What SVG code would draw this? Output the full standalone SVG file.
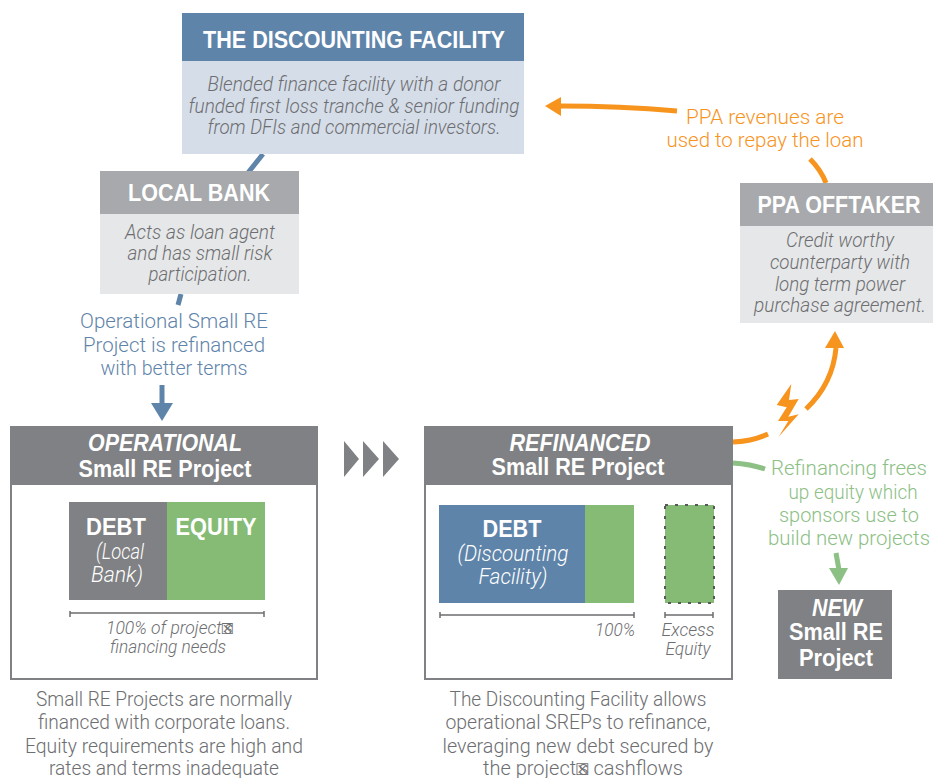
<svg xmlns="http://www.w3.org/2000/svg" width="933" height="778" viewBox="0 0 933 778">
<style>
text{font-family:Roboto,"Liberation Sans",Arial,sans-serif;text-anchor:middle;font-weight:300}
.h{font-family:"Liberation Sans",Arial,sans-serif;font-weight:700;fill:#fff;font-size:24px}
.i{font-style:italic;fill:#6d6e71;font-size:20px}
.s{font-style:italic;fill:#6d6e71;font-size:17.5px}
.b{fill:#5f84aa;font-size:21px}
.o{fill:#f7941e;font-size:21px}
.g{fill:#8cc084;font-size:21px}
.c{fill:#6d6e71;font-size:20px}
.w{font-family:"Liberation Sans",Arial,sans-serif;font-weight:700;fill:#fff;font-size:23px}
.wb{font-family:"Liberation Sans",Arial,sans-serif;font-weight:700;font-style:italic;fill:#fff;font-size:23px}
.wi{font-style:italic;fill:#fff;font-size:22px}
.x{font-family:"DejaVu Sans",sans-serif;font-style:normal;font-weight:400}
.conn{fill:none;stroke-width:5}
.tick{stroke:#6d6e71;stroke-width:1.5;fill:none}
</style>
<g id="connectors">
<path class="conn" stroke="#5f84aa" d="M263 154L247 174"/>
<path class="conn" stroke="#5f84aa" d="M181 294L178 305"/>
<path class="conn" stroke="#5f84aa" d="M162 385V404"/>
<path d="M151 403H173L162 421Z" fill="#5f84aa"/>
<path class="conn" stroke="#f7941e" d="M677 111Q620 106 560 106"/>
<path d="M561 97L545 106L561 116Z" fill="#f7941e"/>
<path class="conn" stroke="#f7941e" d="M810 159Q821 170 826 183"/>
<path class="conn" stroke="#f7941e" d="M733 442Q753 441 768 434"/>
<path class="conn" stroke="#f7941e" d="M806 409C824 392 834 370 836 348"/>
<path d="M825 348L835 331L844 348Z" fill="#f7941e"/>
<path d="M791.3 384L776.7 405L786.7 407.3L778 421L788.3 421L778.7 436.7L798.7 414.3L788.3 416.7L798.7 399L789 400Z" fill="#f7941e"/>
<path class="conn" stroke="#8cc084" d="M733 463Q750 464 765 469"/>
<path class="conn" stroke="#8cc084" d="M836 553L839 570"/>
<path d="M829 568H848L839 585Z" fill="#8cc084"/>
<path d="M344 441L359 459L344 477ZM363 441L379 459L363 477ZM383 441L399 459L383 477Z" fill="#808184"/>
</g>
<g id="discounting-facility">
<rect x="182" y="13" width="342" height="48" fill="#5f84aa"/>
<rect x="182" y="61" width="342" height="93" fill="#d5dde8"/>
<text class="h" x="354" y="48" textLength="302" lengthAdjust="spacingAndGlyphs">THE DISCOUNTING FACILITY</text>
<text class="i" x="354" y="91" textLength="293" lengthAdjust="spacingAndGlyphs">Blended finance facility with a donor</text>
<text class="i" x="354" y="113" textLength="331" lengthAdjust="spacingAndGlyphs">funded first loss tranche &amp; senior funding</text>
<text class="i" x="354" y="134" textLength="293" lengthAdjust="spacingAndGlyphs">from DFIs and commercial investors.</text>
</g>
<g id="local-bank">
<rect x="100" y="171" width="199" height="43" fill="#a7a9ac"/>
<rect x="100" y="214" width="199" height="80" fill="#e6e7e8"/>
<text class="h" x="199" y="201" textLength="142" lengthAdjust="spacingAndGlyphs">LOCAL BANK</text>
<text class="i" x="200" y="239" textLength="150" lengthAdjust="spacingAndGlyphs">Acts as loan agent</text>
<text class="i" x="200" y="260" textLength="145" lengthAdjust="spacingAndGlyphs">and has small risk</text>
<text class="i" x="200" y="281" textLength="103" lengthAdjust="spacingAndGlyphs">participation.</text>
</g>
<g id="ppa-offtaker">
<rect x="740" y="183" width="193" height="43" fill="#a7a9ac"/>
<rect x="740" y="226" width="193" height="97" fill="#e6e7e8"/>
<text class="h" x="839" y="213" textLength="163" lengthAdjust="spacingAndGlyphs">PPA OFFTAKER</text>
<text class="i" x="840" y="247" textLength="108" lengthAdjust="spacingAndGlyphs">Credit worthy</text>
<text class="i" x="840" y="269" textLength="140" lengthAdjust="spacingAndGlyphs">counterparty with</text>
<text class="i" x="840" y="291" textLength="130" lengthAdjust="spacingAndGlyphs">long term power</text>
<text class="i" x="840" y="312" textLength="172" lengthAdjust="spacingAndGlyphs">purchase agreement.</text>
</g>
<g id="label-refinance">
<text class="b" x="174" y="328" textLength="188" lengthAdjust="spacingAndGlyphs">Operational Small RE</text>
<text class="b" x="174" y="352" textLength="182" lengthAdjust="spacingAndGlyphs">Project is refinanced</text>
<text class="b" x="174" y="375" textLength="147" lengthAdjust="spacingAndGlyphs">with better terms</text>
</g>
<g id="label-ppa">
<text class="o" x="765" y="124" textLength="158" lengthAdjust="spacingAndGlyphs">PPA revenues are</text>
<text class="o" x="765" y="147" textLength="197" lengthAdjust="spacingAndGlyphs">used to repay the loan</text>
</g>
<g id="label-equity">
<text class="g" x="849" y="475" textLength="156" lengthAdjust="spacingAndGlyphs">Refinancing frees</text>
<text class="g" x="853" y="499" textLength="129" lengthAdjust="spacingAndGlyphs">up equity which</text>
<text class="g" x="849" y="522" textLength="140" lengthAdjust="spacingAndGlyphs">sponsors use to</text>
<text class="g" x="849" y="545" textLength="162" lengthAdjust="spacingAndGlyphs">build new projects</text>
</g>
<g id="operational-project">
<rect x="11" y="427" width="306" height="252" fill="#fff" stroke="#808184" stroke-width="2"/>
<rect x="11" y="426" width="306" height="59" fill="#808184"/>
<text class="wb" x="165" y="451" textLength="154" lengthAdjust="spacingAndGlyphs">OPERATIONAL</text>
<text class="w" x="165" y="477" textLength="173" lengthAdjust="spacingAndGlyphs">Small RE Project</text>
<rect x="69" y="502" width="98" height="98" fill="#808184"/>
<rect x="167" y="502" width="98" height="98" fill="#85bb75"/>
<text class="w" x="116" y="535" textLength="60" lengthAdjust="spacingAndGlyphs">DEBT</text>
<text class="wi" x="120" y="559" textLength="48" lengthAdjust="spacingAndGlyphs">(Local</text>
<text class="wi" x="117" y="582" textLength="52" lengthAdjust="spacingAndGlyphs">Bank)</text>
<text class="w" x="216" y="535" textLength="81" lengthAdjust="spacingAndGlyphs">EQUITY</text>
<path class="tick" d="M70 611V617M70 613H264M264 611V617"/>
<text class="s" x="106" y="634" style="text-anchor:start">100% of project<tspan class="x" font-size="15" dx="-1">☒</tspan><tspan dx="-10">s</tspan></text>
<text class="s" x="168" y="653" textLength="116" lengthAdjust="spacingAndGlyphs">financing needs</text>
</g>
<g id="refinanced-project">
<rect x="425" y="427" width="307" height="252" fill="#fff" stroke="#808184" stroke-width="2"/>
<rect x="424" y="426" width="309" height="59" fill="#808184"/>
<text class="wb" x="580" y="451" textLength="141" lengthAdjust="spacingAndGlyphs">REFINANCED</text>
<text class="w" x="578" y="475" textLength="173" lengthAdjust="spacingAndGlyphs">Small RE Project</text>
<rect x="439" y="505" width="146" height="98" fill="#5f84aa"/>
<rect x="585" y="505" width="49" height="98" fill="#85bb75"/>
<text class="w" x="512" y="537" textLength="59" lengthAdjust="spacingAndGlyphs">DEBT</text>
<text class="wi" x="513" y="561" textLength="111" lengthAdjust="spacingAndGlyphs">(Discounting</text>
<text class="wi" x="513" y="584" textLength="69" lengthAdjust="spacingAndGlyphs">Facility)</text>
<path class="tick" d="M440 612V618M440 615H634M634 612V618"/>
<text class="s" x="615" y="636" textLength="40" lengthAdjust="spacingAndGlyphs">100%</text>
<rect x="665" y="505" width="49" height="98" fill="#85bb75" stroke="#58595b" stroke-width="2" stroke-dasharray="3 7"/>
<path class="tick" d="M665 612V618M665 615H713M713 612V618"/>
<text class="s" x="688" y="636" textLength="53" lengthAdjust="spacingAndGlyphs">Excess</text>
<text class="s" x="688" y="655" textLength="45" lengthAdjust="spacingAndGlyphs">Equity</text>
</g>
<g id="new-project">
<rect x="778" y="590" width="114" height="89" fill="#808184"/>
<text class="wb" x="837" y="616" textLength="50" lengthAdjust="spacingAndGlyphs">NEW</text>
<text class="w" x="836" y="640" textLength="94" lengthAdjust="spacingAndGlyphs">Small RE</text>
<text class="w" x="836" y="666" textLength="74" lengthAdjust="spacingAndGlyphs">Project</text>
</g>
<g id="caption-left">
<text class="c" x="164" y="706" textLength="256" lengthAdjust="spacingAndGlyphs">Small RE Projects are normally</text>
<text class="c" x="164" y="729" textLength="252" lengthAdjust="spacingAndGlyphs">financed with corporate loans.</text>
<text class="c" x="164" y="753" textLength="278" lengthAdjust="spacingAndGlyphs">Equity requirements are high and</text>
<text class="c" x="164" y="775" textLength="230" lengthAdjust="spacingAndGlyphs">rates and terms inadequate</text>
</g>
<g id="caption-right">
<text class="c" x="578" y="706" textLength="257" lengthAdjust="spacingAndGlyphs">The Discounting Facility allows</text>
<text class="c" x="578" y="729" textLength="265" lengthAdjust="spacingAndGlyphs">operational SREPs to refinance,</text>
<text class="c" x="578" y="753" textLength="271" lengthAdjust="spacingAndGlyphs">leveraging new debt secured by</text>
<text class="c" x="483" y="775" style="text-anchor:start">the project<tspan class="x" font-size="16" dx="-1">☒</tspan><tspan dx="-11">s cashflows</tspan></text>
</g>
</svg>
